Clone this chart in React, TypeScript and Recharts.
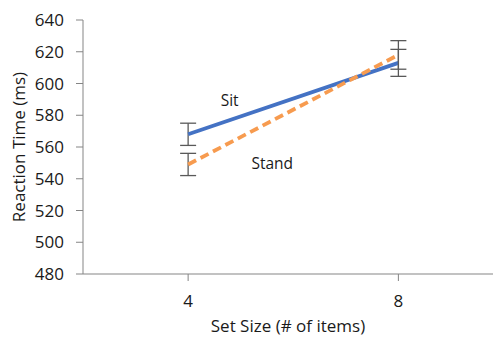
import React from 'react'
import { LineChart, Line, XAxis, YAxis, ErrorBar, ReferenceDot } from 'recharts'

const setSizes = [4, 8]
const sitRT = [568, 613]
const sitErr = [7, 8.5]
const standRT = [549, 618]
const standErr = [7, 9]
const yTicks = [480, 500, 520, 540, 560, 580, 600, 620, 640]

const sitData = setSizes.map((x, i) => ({ x, y: sitRT[i], err: sitErr[i] }))
const standData = setSizes.map((x, i) => ({ x, y: standRT[i], err: standErr[i] }))

const FONT = '"Open Sans", sans-serif'
const AXIS = '#858585'
const TEXT = '#1a1a1a'

export default function App() {
  return (
    <div style={{ position: 'absolute', left: 0, top: 0, background: '#fff' }}>
      <LineChart width={494} height={338} margin={{ top: 20, right: 1, bottom: 0, left: 0 }}>
        <XAxis
          type="number"
          dataKey="x"
          domain={[2, 9.8]}
          ticks={setSizes}
          allowDuplicatedCategory={false}
          height={64}
          stroke={AXIS}
          tickSize={7}
          tickMargin={14}
          tick={{ fill: TEXT, fontSize: 17, fontFamily: FONT }}
          label={{ value: 'Set Size (# of items)', position: 'insideBottom', offset: 6, fill: TEXT, fontSize: 17, fontFamily: FONT }}
        />
        <YAxis
          type="number"
          domain={[480, 640]}
          ticks={yTicks}
          width={83}
          stroke={AXIS}
          tickSize={7}
          tickMargin={12}
          tick={{ fill: TEXT, fontSize: 17, fontFamily: FONT }}
          label={{ value: 'Reaction Time (ms)', angle: -90, position: 'insideLeft', offset: 19, fill: TEXT, fontSize: 17, fontFamily: FONT, style: { textAnchor: 'middle' } }}
        />
        <Line data={sitData} dataKey="y" stroke="#4472C4" strokeWidth={3.8} dot={false} isAnimationActive={false}>
          <ErrorBar dataKey="err" width={8} stroke="#595959" strokeWidth={1.3} direction="y" />
        </Line>
        <Line data={standData} dataKey="y" stroke="#F79B4F" strokeWidth={3.8} strokeDasharray="9 5" dot={false} isAnimationActive={false}>
          <ErrorBar dataKey="err" width={8} stroke="#595959" strokeWidth={1.3} direction="y" />
        </Line>
        <ReferenceDot x={4.79} y={589.6} r={0} fill="none" stroke="none"
          label={{ value: 'Sit', position: 'center', fill: TEXT, fontSize: 15.5, fontFamily: FONT }} />
        <ReferenceDot x={5.6} y={549.3} r={0} fill="none" stroke="none"
          label={{ value: 'Stand', position: 'center', fill: TEXT, fontSize: 15.5, fontFamily: FONT }} />
      </LineChart>
    </div>
  )
}
